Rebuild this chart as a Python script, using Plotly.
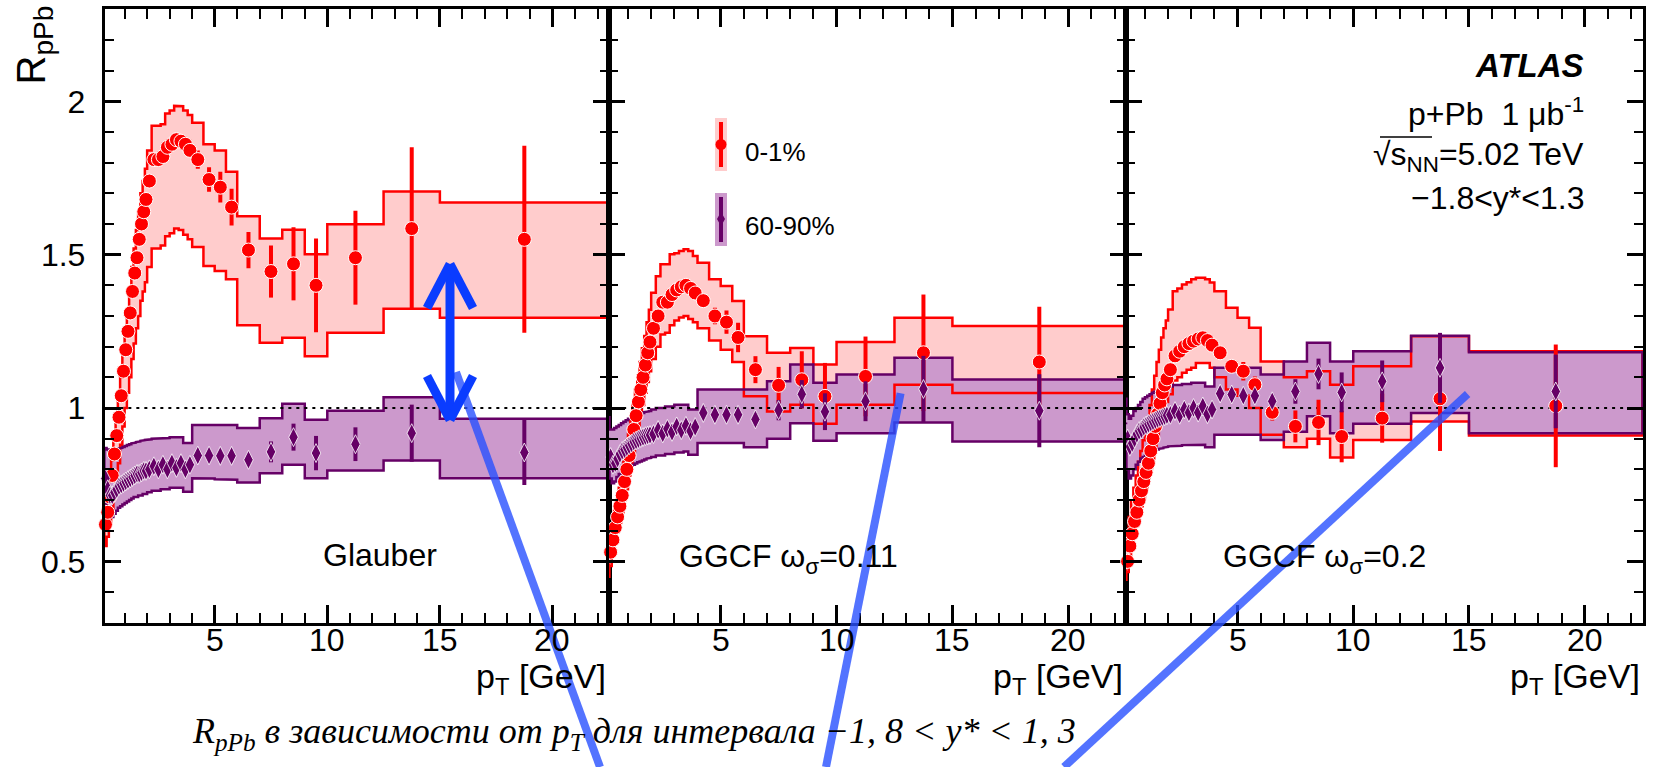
import plotly.graph_objects as go

W, H = 1657, 767

# ---------------------------------------------------------------- binning
PT_EDGES = [0.1, 0.2, 0.3, 0.4, 0.5, 0.6, 0.7, 0.8, 0.9, 1.0,
            1.1, 1.2, 1.3, 1.4, 1.5, 1.6, 1.7, 1.8, 1.9, 2.0,
            2.2, 2.4, 2.6, 2.8, 3.0, 3.2, 3.4, 3.6, 3.8, 4.0,
            4.5, 5.0, 5.5, 6.0, 7.0, 8.0, 9.0, 10.0, 12.5, 15.0, 22.5]
PT = [0.15, 0.25, 0.35, 0.45, 0.55, 0.65, 0.75, 0.85, 0.95, 1.05,
      1.15, 1.25, 1.35, 1.45, 1.55, 1.65, 1.75, 1.85, 1.95,
      2.1, 2.3, 2.5, 2.7, 2.9, 3.1, 3.3, 3.5, 3.7, 3.9,
      4.25, 4.75, 5.25, 5.75, 6.5, 7.5, 8.5, 9.5, 11.25, 13.75, 18.75]

# ---------------------------------------------------------------- Glauber
G_R01 = [0.62, 0.66, 0.71, 0.78, 0.85, 0.91, 0.97, 1.04, 1.12, 1.19,
         1.25, 1.31, 1.38, 1.44, 1.49, 1.55, 1.60, 1.64, 1.68,
         1.74, 1.81, 1.81, 1.82, 1.85, 1.86, 1.875, 1.87, 1.86, 1.84,
         1.81, 1.745, 1.72, 1.655, 1.515, 1.445, 1.47, 1.40, 1.49, 1.585, 1.55]
G_R01_STAT = [0.004, 0.004, 0.004, 0.004, 0.004, 0.004, 0.004, 0.004, 0.004, 0.004,
              0.005, 0.005, 0.005, 0.005, 0.005, 0.006, 0.006, 0.006, 0.006,
              0.007, 0.008, 0.008, 0.009, 0.010, 0.011, 0.012, 0.013, 0.015, 0.018,
              0.030, 0.040, 0.050, 0.060, 0.059, 0.085, 0.119, 0.153, 0.153, 0.265, 0.305]
G_R01_LO = [0.55, 0.58, 0.62, 0.67, 0.72, 0.77, 0.82, 0.88, 0.94, 1.00,
            1.05, 1.10, 1.16, 1.21, 1.26, 1.30, 1.35, 1.38, 1.41,
            1.46, 1.52, 1.52, 1.53, 1.56, 1.57, 1.585, 1.58, 1.565, 1.55,
            1.525, 1.463, 1.447, 1.42, 1.27, 1.213, 1.229, 1.169, 1.245, 1.324, 1.294]
G_R01_HI = [0.66, 0.70, 0.76, 0.83, 0.90, 0.97, 1.03, 1.10, 1.18, 1.26,
            1.32, 1.39, 1.46, 1.52, 1.58, 1.64, 1.70, 1.74, 1.78,
            1.84, 1.92, 1.92, 1.925, 1.96, 1.97, 1.985, 1.984, 1.97, 1.955,
            1.93, 1.86, 1.84, 1.77, 1.625, 1.553, 1.581, 1.501, 1.599, 1.706, 1.670]

G_P = [0.77, 0.735, 0.715, 0.715, 0.725, 0.735, 0.745, 0.75, 0.755, 0.76,
       0.765, 0.77, 0.775, 0.78, 0.785, 0.785, 0.79, 0.795, 0.795,
       0.80, 0.81, 0.80, 0.815, 0.80, 0.82, 0.805, 0.82, 0.80, 0.815,
       0.845, 0.845, 0.844, 0.844, 0.831, 0.857, 0.905, 0.853, 0.882, 0.918, 0.855]
G_P_STAT = [0.003, 0.003, 0.003, 0.003, 0.003, 0.003, 0.003, 0.003, 0.003, 0.003,
            0.003, 0.003, 0.003, 0.003, 0.004, 0.004, 0.004, 0.004, 0.004,
            0.004, 0.005, 0.005, 0.005, 0.005, 0.006, 0.006, 0.006, 0.007, 0.007,
            0.010, 0.012, 0.013, 0.015, 0.020, 0.034, 0.044, 0.056, 0.055, 0.093, 0.106]
G_P_LO = [0.69, 0.66, 0.645, 0.645, 0.655, 0.665, 0.675, 0.68, 0.685, 0.69,
          0.695, 0.70, 0.705, 0.71, 0.71, 0.715, 0.715, 0.72, 0.72,
          0.725, 0.73, 0.73, 0.735, 0.735, 0.74, 0.74, 0.74, 0.727, 0.727,
          0.771, 0.77, 0.768, 0.766, 0.757, 0.787, 0.815, 0.771, 0.796, 0.829, 0.771]
G_P_HI = [0.87, 0.865, 0.86, 0.86, 0.862, 0.865, 0.868, 0.87, 0.873, 0.876,
          0.879, 0.882, 0.885, 0.887, 0.889, 0.891, 0.893, 0.895, 0.896,
          0.898, 0.90, 0.90, 0.902, 0.902, 0.905, 0.905, 0.905, 0.886, 0.886,
          0.945, 0.945, 0.945, 0.945, 0.935, 0.967, 1.014, 0.962, 0.991, 1.035, 0.965]

# ---------------------------------------------------------------- GGCF 0.11
W1_R01 = [0.49, 0.53, 0.57, 0.61, 0.645, 0.68, 0.715, 0.76, 0.80, 0.845,
          0.885, 0.93, 0.975, 1.02, 1.06, 1.10, 1.14, 1.18, 1.215,
          1.26, 1.30, 1.345, 1.345, 1.37, 1.385, 1.395, 1.40, 1.39, 1.375,
          1.35, 1.30, 1.28, 1.23, 1.125, 1.074, 1.092, 1.038, 1.103, 1.18, 1.15]
W1_R01_STAT = [0.004, 0.004, 0.004, 0.004, 0.004, 0.004, 0.004, 0.004, 0.004, 0.004,
               0.005, 0.005, 0.005, 0.005, 0.005, 0.006, 0.006, 0.006, 0.006,
               0.007, 0.008, 0.008, 0.009, 0.010, 0.011, 0.012, 0.013, 0.014, 0.016,
               0.020, 0.027, 0.038, 0.048, 0.044, 0.060, 0.093, 0.109, 0.130, 0.190, 0.180]
W1_R01_LO = [0.45, 0.485, 0.525, 0.56, 0.595, 0.625, 0.66, 0.70, 0.735, 0.78,
             0.815, 0.855, 0.90, 0.94, 0.975, 1.01, 1.05, 1.085, 1.12,
             1.16, 1.20, 1.24, 1.245, 1.27, 1.285, 1.295, 1.30, 1.29, 1.28,
             1.26, 1.22, 1.19, 1.15, 1.038, 0.989, 1.011, 0.949, 1.011, 1.076, 1.049]
W1_R01_HI = [0.535, 0.575, 0.62, 0.665, 0.70, 0.74, 0.775, 0.825, 0.87, 0.915,
             0.96, 1.01, 1.06, 1.105, 1.15, 1.195, 1.235, 1.28, 1.32,
             1.376, 1.43, 1.469, 1.469, 1.501, 1.505, 1.512, 1.518, 1.512, 1.496,
             1.474, 1.42, 1.398, 1.349, 1.234, 1.18, 1.196, 1.142, 1.215, 1.294, 1.267]

W1_P = [0.90, 0.84, 0.815, 0.82, 0.835, 0.85, 0.86, 0.865, 0.872, 0.878,
        0.884, 0.89, 0.894, 0.898, 0.902, 0.905, 0.908, 0.91, 0.912,
        0.915, 0.928, 0.917, 0.932, 0.922, 0.94, 0.928, 0.942, 0.925, 0.938,
        0.984, 0.978, 0.978, 0.978, 0.963, 0.993, 1.045, 0.988, 1.022, 1.062, 0.991]
W1_P_STAT = [0.003, 0.003, 0.003, 0.003, 0.003, 0.003, 0.003, 0.003, 0.003, 0.003,
             0.003, 0.003, 0.003, 0.003, 0.004, 0.004, 0.004, 0.004, 0.004,
             0.004, 0.005, 0.005, 0.005, 0.005, 0.006, 0.006, 0.006, 0.007, 0.007,
             0.012, 0.014, 0.016, 0.019, 0.020, 0.033, 0.046, 0.060, 0.065, 0.108, 0.119]
W1_P_LO = [0.83, 0.77, 0.755, 0.76, 0.775, 0.785, 0.792, 0.797, 0.802, 0.807,
           0.811, 0.815, 0.819, 0.823, 0.826, 0.829, 0.832, 0.835, 0.837,
           0.84, 0.845, 0.845, 0.85, 0.85, 0.855, 0.855, 0.858, 0.848, 0.848,
           0.886, 0.886, 0.886, 0.886, 0.872, 0.90, 0.95, 0.893, 0.918, 0.953, 0.891]
W1_P_HI = [0.97, 0.93, 0.93, 0.935, 0.94, 0.945, 0.95, 0.955, 0.96, 0.965,
           0.968, 0.972, 0.975, 0.978, 0.981, 0.984, 0.987, 0.989, 0.99,
           0.995, 1.0, 1.0, 1.005, 1.005, 1.011, 1.011, 1.011, 0.995, 0.995,
           1.06, 1.06, 1.062, 1.062, 1.06, 1.087, 1.142, 1.082, 1.109, 1.164, 1.093]

# ---------------------------------------------------------------- GGCF 0.2
W2_R01 = [0.47, 0.50, 0.55, 0.59, 0.63, 0.66, 0.70, 0.73, 0.76, 0.79,
          0.82, 0.86, 0.90, 0.94, 0.98, 1.015, 1.05, 1.075, 1.095,
          1.125, 1.17, 1.185, 1.20, 1.21, 1.218, 1.225, 1.229, 1.22, 1.205,
          1.18, 1.136, 1.12, 1.076, 0.986, 0.94, 0.953, 0.907, 0.967, 1.03, 1.007]
W2_R01_STAT = [0.004, 0.004, 0.004, 0.004, 0.004, 0.004, 0.004, 0.004, 0.004, 0.004,
               0.005, 0.005, 0.005, 0.005, 0.005, 0.006, 0.006, 0.006, 0.006,
               0.007, 0.008, 0.008, 0.009, 0.010, 0.011, 0.012, 0.013, 0.014, 0.015,
               0.015, 0.020, 0.030, 0.027, 0.027, 0.052, 0.074, 0.084, 0.080, 0.170, 0.200]
W2_R01_LO = [0.44, 0.465, 0.51, 0.55, 0.585, 0.615, 0.65, 0.68, 0.705, 0.735,
             0.76, 0.80, 0.835, 0.875, 0.91, 0.945, 0.975, 1.0, 1.02,
             1.045, 1.09, 1.10, 1.115, 1.125, 1.131, 1.147, 1.147, 1.147, 1.131,
             1.10, 1.06, 1.04, 1.00, 0.913, 0.872, 0.90, 0.839, 0.896, 0.956, 0.91]
W2_R01_HI = [0.55, 0.59, 0.645, 0.695, 0.74, 0.78, 0.825, 0.86, 0.895, 0.93,
             0.965, 1.01, 1.06, 1.105, 1.15, 1.19, 1.23, 1.26, 1.285,
             1.321, 1.381, 1.39, 1.403, 1.41, 1.42, 1.425, 1.425, 1.42, 1.409,
             1.381, 1.327, 1.294, 1.262, 1.152, 1.10, 1.12, 1.076, 1.136, 1.234, 1.185]

W2_P = [0.95, 0.90, 0.874, 0.885, 0.90, 0.915, 0.925, 0.93, 0.938, 0.943,
        0.948, 0.952, 0.956, 0.96, 0.964, 0.967, 0.97, 0.973, 0.976,
        0.978, 0.99, 0.978, 0.995, 0.985, 1.0, 0.985, 1.005, 0.98, 0.995,
        1.047, 1.044, 1.04, 1.04, 1.022, 1.054, 1.111, 1.051, 1.087, 1.131, 1.054]
W2_P_STAT = [0.003, 0.003, 0.003, 0.003, 0.003, 0.003, 0.003, 0.003, 0.003, 0.003,
             0.003, 0.003, 0.003, 0.003, 0.004, 0.004, 0.004, 0.004, 0.004,
             0.004, 0.005, 0.005, 0.005, 0.005, 0.006, 0.006, 0.006, 0.007, 0.007,
             0.010, 0.010, 0.012, 0.015, 0.022, 0.040, 0.050, 0.065, 0.068, 0.114, 0.120]
W2_P_LO = [0.87, 0.80, 0.77, 0.78, 0.80, 0.815, 0.825, 0.835, 0.84, 0.845,
           0.85, 0.855, 0.858, 0.862, 0.865, 0.867, 0.869, 0.871, 0.873,
           0.875, 0.877, 0.877, 0.879, 0.879, 0.88, 0.88, 0.88, 0.872, 0.872,
           0.913, 0.913, 0.913, 0.913, 0.896, 0.923, 0.973, 0.918, 0.949, 0.984, 0.918]
W2_P_HI = [1.03, 0.98, 0.965, 0.975, 0.99, 1.0, 1.01, 1.02, 1.03, 1.035,
           1.04, 1.045, 1.05, 1.053, 1.056, 1.06, 1.063, 1.066, 1.068,
           1.07, 1.075, 1.075, 1.078, 1.078, 1.082, 1.082, 1.082, 1.07, 1.07,
           1.131, 1.131, 1.131, 1.131, 1.109, 1.152, 1.213, 1.152, 1.185, 1.236, 1.182]

REF_LEVEL = 1.0
X_TICKS = [5, 10, 15, 20]
Y_TICKS = [0.5, 1, 1.5, 2]

# ---------------------------------------------------------------- styling
RED, PINK = "#ff0000", "#ffcccc"
PURPLE, LILAC = "#660066", "#cc99cc"
BLUE = "#0a3cff"
LIGHT_BLUE = "rgba(40,80,255,0.8)"
SANS = "Liberation Sans"

PANELS = [
    dict(label="Glauber", r01=(G_R01, G_R01_STAT, G_R01_LO, G_R01_HI),
         p=(G_P, G_P_STAT, G_P_LO, G_P_HI),
         px=(104.8, 609.0), xr=(0.12, 22.51)),
    dict(label="GGCF ω<sub>σ</sub>=0.11", r01=(W1_R01, W1_R01_STAT, W1_R01_LO, W1_R01_HI),
         p=(W1_P, W1_P_STAT, W1_P_LO, W1_P_HI),
         px=(609.0, 1125.5), xr=(0.18, 22.47)),
    dict(label="GGCF ω<sub>σ</sub>=0.2", r01=(W2_R01, W2_R01_STAT, W2_R01_LO, W2_R01_HI),
         p=(W2_P, W2_P_STAT, W2_P_LO, W2_P_HI),
         px=(1125.5, 1643.0), xr=(0.16, 22.52)),
]
PLOT_TOP, PLOT_BOTTOM = 9.3, 622.7


def fx(px):
    return px / W


def fy(py):
    return 1 - py / H


def band_outline(edges, lo, hi):
    xs, ys = [], []
    for i, v in enumerate(hi):
        xs += [edges[i], edges[i + 1]]
        ys += [v, v]
    for i in reversed(range(len(lo))):
        xs += [edges[i + 1], edges[i]]
        ys += [lo[i], lo[i]]
    xs.append(xs[0])
    ys.append(ys[0])
    return xs, ys


fig = go.Figure()
layout_axes = {}
annotations = []


def text(x, y, s, size=32, xanchor="center", yanchor="middle", family=SANS, angle=0, xref="paper"):
    annotations.append(dict(x=x if xref != "paper" else fx(x), y=fy(y), xref=xref, yref="paper",
                            text=s, showarrow=False, xanchor=xanchor, yanchor=yanchor,
                            textangle=angle, font=dict(family=family, size=size, color="black")))


for k, panel in enumerate(PANELS):
    sfx = "" if k == 0 else str(k + 1)
    xa, ya = "x" + sfx, "y" + sfx
    r_val, r_stat, r_lo, r_hi = panel["r01"]
    p_val, p_stat, p_lo, p_hi = panel["p"]
    rbx, rby = band_outline(PT_EDGES, r_lo, r_hi)
    pbx, pby = band_outline(PT_EDGES, p_lo, p_hi)

    common = dict(xaxis=xa, yaxis=ya, showlegend=False, hoverinfo="skip")
    fig.add_trace(go.Scatter(x=rbx, y=rby, mode="lines", fill="toself", fillcolor=PINK,
                             line=dict(width=0), **common))
    fig.add_trace(go.Scatter(x=pbx, y=pby, mode="lines", fill="toself", fillcolor=LILAC,
                             line=dict(width=0), **common))
    fig.add_trace(go.Scatter(x=rbx, y=rby, mode="lines", line=dict(color=RED, width=2.5), **common))
    fig.add_trace(go.Scatter(x=pbx, y=pby, mode="lines", line=dict(color=PURPLE, width=2.5), **common))
    fig.add_trace(go.Scatter(x=[PT_EDGES[0], PT_EDGES[-1]], y=[REF_LEVEL, REF_LEVEL], mode="lines",
                             line=dict(color="black", width=2, dash="3px,5px"), **common))
    fig.add_trace(go.Scatter(
        x=PT, y=r_val, mode="markers", cliponaxis=False,
        marker=dict(symbol="circle", size=14, color=RED, line=dict(color="white", width=1)),
        error_y=dict(type="data", array=r_stat, visible=True, thickness=4, width=0, color=RED),
        **common))
    fig.add_trace(go.Scatter(
        x=PT, y=p_val, mode="markers", cliponaxis=False,
        marker=dict(symbol="diamond-tall", size=13.5, color=PURPLE, line=dict(color="white", width=0.8)),
        error_y=dict(type="data", array=p_stat, visible=True, thickness=4, width=0, color=PURPLE),
        **common))

    x0, x1 = panel["px"]
    layout_axes["xaxis" + sfx] = dict(
        domain=[fx(x0), fx(x1)], range=list(panel["xr"]), anchor=ya,
        showline=True, linewidth=3, linecolor="black", mirror="allticks",
        ticks="inside", ticklen=18, tickwidth=2.5, tickcolor="black",
        tickvals=X_TICKS, showticklabels=False,
        minor=dict(ticks="inside", ticklen=10, tickwidth=2, tickcolor="black", dtick=1, tick0=0),
        showgrid=False, zeroline=False)
    layout_axes["yaxis" + sfx] = dict(
        domain=[fy(PLOT_BOTTOM), fy(PLOT_TOP)], range=[0.3, 2.3], anchor=xa,
        showline=True, linewidth=3, linecolor="black", mirror="allticks",
        ticks="inside", ticklen=16, tickwidth=2.5, tickcolor="black",
        tickvals=Y_TICKS, ticktext=["0.5", "1", "1.5", "2"],
        minor=dict(ticks="inside", ticklen=9, tickwidth=2, tickcolor="black", dtick=0.1, tick0=0),
        showgrid=False, zeroline=False, showticklabels=(k == 0), ticklabelstandoff=10,
        tickfont=dict(family=SANS, size=32, color="black"))

    # pT tick labels, placed on the panel's own x scale
    for t in X_TICKS:
        text(t, 640, str(t), size=32, xref=xa)
    # axis title, flush with the right edge of the panel
    text(x1 - 1, 678, "p<sub>T</sub> [GeV]", size=34, xanchor="right")

text(34, 4, "R<sub>pPb</sub>", size=40, yanchor="top", angle=-90)

# model labels inside each panel
text(380, 555, PANELS[0]["label"])
text(677, 558, PANELS[1]["label"], xanchor="left")
text(1221, 558, PANELS[2]["label"], xanchor="left")

# experiment block
text(1586, 66, "<b><i>ATLAS</i></b>", size=33, xanchor="right")
text(1586, 112, "p+Pb  1 μb<sup>-1</sup>", size=32, xanchor="right")
text(1586, 156, "√s<sub>NN</sub>=5.02 TeV", size=32, xanchor="right")
text(1586, 198, "−1.8<y*<1.3", size=32, xanchor="right")

# legend
text(743, 152, "0-1%", size=26, xanchor="left")
text(743, 226, "60-90%", size=26, xanchor="left")

# caption
text(634, 733, "<i>R<sub>pPb</sub> в зависимости от p<sub>T</sub> для интервала −1, 8 &lt; y* &lt; 1, 3</i>",
     size=36, family="Liberation Serif")

shapes = []


def line(x0, y0, x1, y1, color, width):
    shapes.append(dict(type="line", xref="paper", yref="paper",
                       x0=fx(x0), y0=fy(y0), x1=fx(x1), y1=fy(y1),
                       line=dict(color=color, width=width), layer="above"))


def rect(x0, y0, x1, y1, color):
    shapes.append(dict(type="rect", xref="paper", yref="paper",
                       x0=fx(x0), y0=fy(y0), x1=fx(x1), y1=fy(y1),
                       fillcolor=color, line=dict(width=0), layer="above"))


# legend glyphs
rect(715, 118, 727, 171, PINK)
line(721, 122, 721, 167, RED, 4)
shapes.append(dict(type="circle", xref="paper", yref="paper",
                   x0=fx(715.5), y0=fy(150), x1=fx(726.5), y1=fy(139),
                   fillcolor=RED, line=dict(width=0), layer="above"))
rect(715, 193, 727, 246, LILAC)
line(721, 197, 721, 242, PURPLE, 4)
shapes.append(dict(type="path", xref="paper", yref="paper",
                   path=f"M{fx(721)},{fy(212)} L{fx(725)},{fy(219)} L{fx(721)},{fy(226)} L{fx(717)},{fy(219)} Z",
                   fillcolor=PURPLE, line=dict(width=0), layer="above"))

# overline of the square root
line(1380, 137, 1432, 137, "black", 1.5)

# pointer strokes
line(456, 372, 600, 767, LIGHT_BLUE, 8)
line(900.6, 393.3, 826, 767, LIGHT_BLUE, 8)
line(1467.6, 394, 1064, 767, LIGHT_BLUE, 8)

# double-headed arrow in the first panel
line(450, 266, 450, 418, BLUE, 9)
line(427, 308, 450, 264, BLUE, 9)
line(473, 308, 450, 264, BLUE, 9)
line(427, 376, 450, 420, BLUE, 9)
line(473, 376, 450, 420, BLUE, 9)

fig.update_layout(
    width=W, height=H, margin=dict(l=0, r=0, t=0, b=0),
    paper_bgcolor="white", plot_bgcolor="white",
    annotations=annotations, shapes=shapes, **layout_axes)

fig.write_html("out.html")
